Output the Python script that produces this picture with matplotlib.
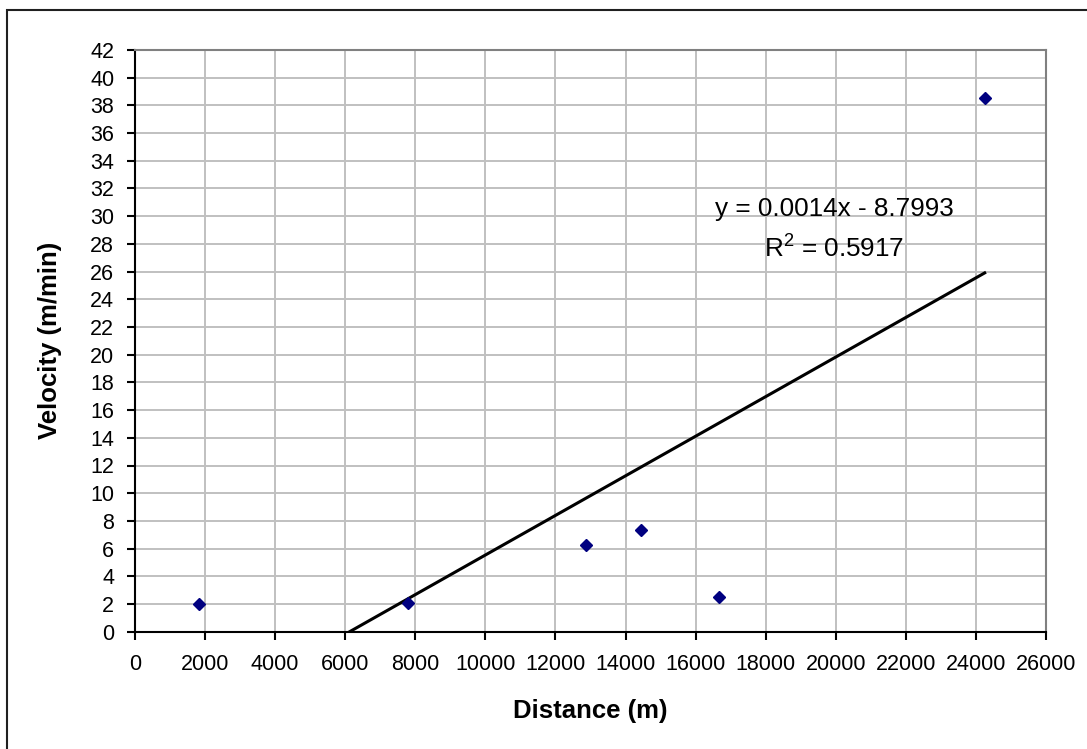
import numpy as np
import matplotlib
matplotlib.use('Agg')
import matplotlib.pyplot as plt
from matplotlib.patches import Rectangle

plt.rcParams['font.family'] = ['Liberation Sans', 'DejaVu Sans']

# data
distance = [1820, 7790, 12860, 14430, 16660, 24250]
velocity = [2.0, 2.1, 6.24, 7.34, 2.5, 38.5]
xticks = np.arange(0, 26001, 2000)
yticks = np.arange(0, 43, 2)
eq_text = 'y = 0.0014x - 8.7993'
r2_text = '$\\mathregular{R^2}$ = 0.5917'

x = np.array(distance, dtype=float)
y = np.array(velocity, dtype=float)
slope, icpt = np.polyfit(x, y, 1)

fig = plt.figure(figsize=(10.87, 7.49), dpi=100, facecolor='w')
ax = fig.add_axes([135/1087, 1-631.7/749, 911/1087, 581.7/749])

# outer chart frame (only left/top inside the picture)
fig.patches.append(Rectangle((7/1087, -0.1), 1.2, 1-10/749+0.1, transform=fig.transFigure,
                             fill=False, ec='#202020', lw=1.5, zorder=0))

ax.set_xlim(0, 26000)
ax.set_ylim(0, 42)
ax.set_xticks(xticks)
ax.set_yticks(yticks)
ax.grid(True, color='#c0c0c0', lw=1.4)
ax.set_axisbelow(True)

for s in ['left', 'bottom']:
    ax.spines[s].set_color('black')
    ax.spines[s].set_linewidth(1.5)
for s in ['top', 'right']:
    ax.spines[s].set_color('#808080')
    ax.spines[s].set_linewidth(1.5)

ax.tick_params(axis='both', direction='out', length=6, width=1.5, labelsize=15.5)
ax.tick_params(axis='y', pad=9)
ax.tick_params(axis='x', pad=10)

ax.plot(x, y, ls='none', marker='D', ms=6.2, mfc='#000080', mec='#000080', zorder=3)

# linear trendline over the data range
xl = np.array([x.min(), x.max()])
ax.plot(xl, slope*xl + icpt, color='black', lw=2.2, zorder=2)

ax.text(19950, 30.5, eq_text, ha='center', va='center', fontsize=18.8)
ax.text(19950, 27.6, r2_text, ha='center', va='center', fontsize=18.8)

ax.set_xlabel('Distance (m)', fontsize=18.5, fontweight='bold')
ax.set_ylabel('Velocity (m/min)', fontsize=18.5, fontweight='bold')
ax.xaxis.set_label_coords(0.5, -0.136)
ax.xaxis.label.set_va('center')
ax.yaxis.set_label_coords(-0.093, 0.5)
ax.yaxis.label.set_va('center')

plt.savefig('out.png', dpi=100)
